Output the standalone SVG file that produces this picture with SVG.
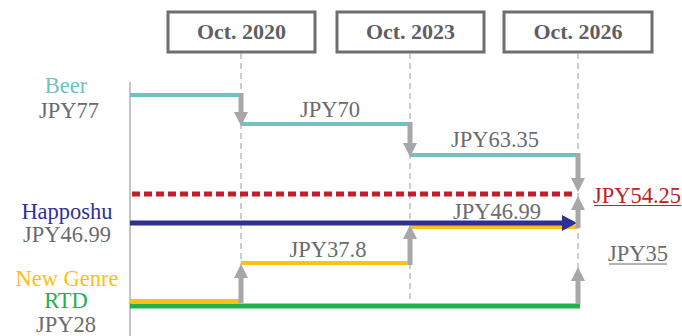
<svg xmlns="http://www.w3.org/2000/svg" width="682" height="336" viewBox="0 0 682 336">
<defs>
<style>
.box{fill:#fff;stroke:#6e6e70;stroke-width:3}
.bt{font-family:"Liberation Serif","Times New Roman",Tinos,"DejaVu Serif",serif;font-weight:bold;font-size:22px;fill:#5f5f61;text-anchor:middle}
.t{font-family:"Liberation Serif","Times New Roman",Tinos,"DejaVu Serif",serif;font-size:22.5px;fill:#6b6b6d;text-anchor:middle}
.grid{stroke:#9a9a9a;stroke-width:1;stroke-dasharray:6,4;fill:none}
.arr{stroke:#a7a7a9;stroke-width:5;fill:none}
.ah{fill:#a7a7a9}
</style>
</defs>
<rect width="682" height="336" fill="#fff"/>
<g id="timeline-boxes">
<g id="box-2020"><rect class="box" x="168" y="12" width="147" height="40"/><text class="bt" x="241.5" y="39">Oct. 2020</text></g>
<g id="box-2023"><rect class="box" x="337" y="12" width="147" height="40"/><text class="bt" x="410.5" y="39">Oct. 2023</text></g>
<g id="box-2026"><rect class="box" x="504" y="12" width="148" height="40"/><text class="bt" x="578" y="39">Oct. 2026</text></g>
</g>
<g id="gridlines">
<line class="grid" x1="241" y1="53" x2="241" y2="303"/>
<line class="grid" x1="410" y1="53" x2="410" y2="303"/>
<line class="grid" x1="578" y1="53" x2="578" y2="303"/>
<line x1="130" y1="82" x2="130" y2="336" stroke="#8a8a8a" stroke-width="1"/>
</g>
<g id="labels">
<g id="beer"><text class="t" x="66" y="93" style="fill:#6fc0c4">Beer</text><text class="t" x="69" y="118">JPY77</text></g>
<g id="happoshu"><text class="t" x="67" y="219" style="fill:#2e3192">Happoshu</text><text class="t" x="67" y="242">JPY46.99</text></g>
<g id="newgenre"><text class="t" x="67" y="286" style="fill:#fdc018">New Genre</text><text class="t" x="66" y="308" style="fill:#22b14c">RTD</text><text class="t" x="66" y="332">JPY28</text></g>
<text class="t" x="330" y="117">JPY70</text>
<text class="t" x="495" y="147">JPY63.35</text>
<text class="t" x="497" y="219">JPY46.99</text>
<text class="t" x="328" y="257">JPY37.8</text>
<g id="target-5425"><text class="t" x="637" y="203" style="fill:#c0202a">JPY54.25</text><line x1="594" y1="205.5" x2="681" y2="205.5" stroke="#c0202a" stroke-width="1"/></g>
<g id="target-35"><text class="t" x="638" y="261">JPY35</text><line x1="609" y1="264" x2="667" y2="264" stroke="#6b6b6d" stroke-width="1"/></g>
</g>
<g id="connectors">
<polyline points="130,95 241,95" stroke="#72c0c5" stroke-width="4" fill="none"/>
<polyline points="241,124 410,124" stroke="#72c0c5" stroke-width="4" fill="none"/>
<polyline points="410,155 578,155" stroke="#72c0c5" stroke-width="4" fill="none"/>
<line x1="132" y1="194" x2="575" y2="194" stroke="#c0202a" stroke-width="5" stroke-dasharray="8,4"/>
<line x1="130" y1="301" x2="241" y2="301" stroke="#fdc018" stroke-width="4"/>
<line x1="241" y1="263" x2="410" y2="263" stroke="#fdc018" stroke-width="4"/>
<line x1="410" y1="227" x2="578" y2="227" stroke="#fdc018" stroke-width="4"/>
<line x1="130" y1="306" x2="580" y2="306" stroke="#22b14c" stroke-width="5"/>
<line x1="130" y1="223" x2="566" y2="223" stroke="#2e3192" stroke-width="5"/>
<polygon points="562,215 577,223 562,231" fill="#2e3192"/>
<line class="arr" x1="241" y1="93" x2="241" y2="114"/><polygon class="ah" points="234,112 248,112 241,126"/>
<line class="arr" x1="410" y1="122" x2="410" y2="145"/><polygon class="ah" points="403,143 417,143 410,157"/>
<line class="arr" x1="578" y1="153" x2="578" y2="180"/><polygon class="ah" points="571,178 585,178 578,192"/>
<line class="arr" x1="578" y1="228" x2="578" y2="206"/><polygon class="ah" points="571,210 585,210 578,196"/>
<line class="arr" x1="410" y1="265" x2="410" y2="236"/><polygon class="ah" points="403,239 417,239 410,225"/>
<line class="arr" x1="241" y1="303" x2="241" y2="275"/><polygon class="ah" points="234,278 248,278 241,264"/>
<line class="arr" x1="578" y1="304" x2="578" y2="278"/><polygon class="ah" points="571,281 585,281 578,267"/>
</g>
</svg>
